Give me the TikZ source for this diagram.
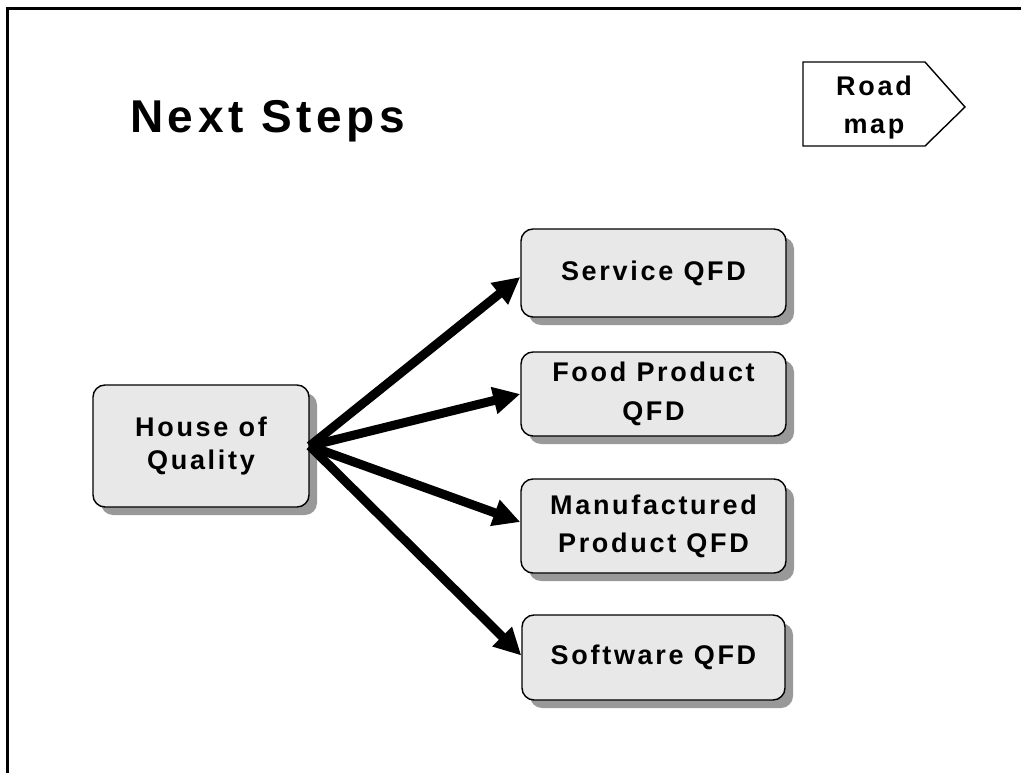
\documentclass[tikz,border=0pt]{standalone}
\usepackage{fontspec}
\setmainfont{Liberation Sans}
\newfontfamily\titlefont[LetterSpace=10]{Liberation Sans}
\newfontfamily\boxfont[LetterSpace=10]{Liberation Sans}
\usetikzlibrary{arrows.meta,shadows}
\definecolor{boxfill}{HTML}{E8E8E8}
\definecolor{shadowgray}{HTML}{999999}
\tikzset{
  qbox/.style={draw=black, line width=1.4pt, fill=boxfill, rounded corners=12pt,
    inner sep=0pt, align=center, font=\boxfont\bfseries\fontsize{27}{37}\selectfont,
    drop shadow={shadow xshift=8pt, shadow yshift=-8pt, fill=shadowgray, opacity=1}},
  bigarrow/.style={line width=9pt, -{Triangle[length=27pt,width=26pt]}},
  frameline/.style={line width=3pt}
}
\begin{document}
\begin{tikzpicture}[x=1pt,y=-1pt]
\useasboundingbox (0,0) rectangle (1021,773);
\draw[frameline] (7,773) -- (7,9) -- (1021,9);
\node[anchor=base west, inner sep=0pt, font=\titlefont\bfseries\fontsize{46}{50}\selectfont] (title) at (130,133) {Next Steps};
% road map tag
\draw[line width=1.4pt] (803,62) -- (925,62) -- (965,107) -- (925,146) -- (803,146) -- cycle;
\node[inner sep=0pt, align=center, font=\boxfont\bfseries\fontsize{27}{38}\selectfont] (road) at (874,108) {Road\\map};
\node[qbox, minimum width=216pt, minimum height=122pt, font=\boxfont\bfseries\fontsize{27}{33}\selectfont] (hq) at (201,446) {House of\\Quality};
\node[qbox, minimum width=265pt, minimum height=88pt] (svc) at (653.5,273) {Service QFD};
\node[qbox, minimum width=265pt, minimum height=84pt, font=\boxfont\bfseries\fontsize{27}{39}\selectfont] (food) at (653.5,394) {Food Product\\QFD};
\node[qbox, minimum width=265pt, minimum height=94pt, font=\boxfont\bfseries\fontsize{27}{38}\selectfont] (mfg) at (653.5,526) {Manufactured\\Product QFD};
\node[qbox, minimum width=263pt, minimum height=85pt] (sw) at (653.5,657.5) {Software QFD};
\draw[bigarrow] (hq.east) -- ([yshift=-4pt]svc.west);
\draw[bigarrow] (hq.east) -- (food.west);
\draw[bigarrow] (hq.east) -- ([yshift=4pt]mfg.west);
\draw[bigarrow] (hq.east) -- ([yshift=2pt]sw.west);
\end{tikzpicture}
\end{document}
